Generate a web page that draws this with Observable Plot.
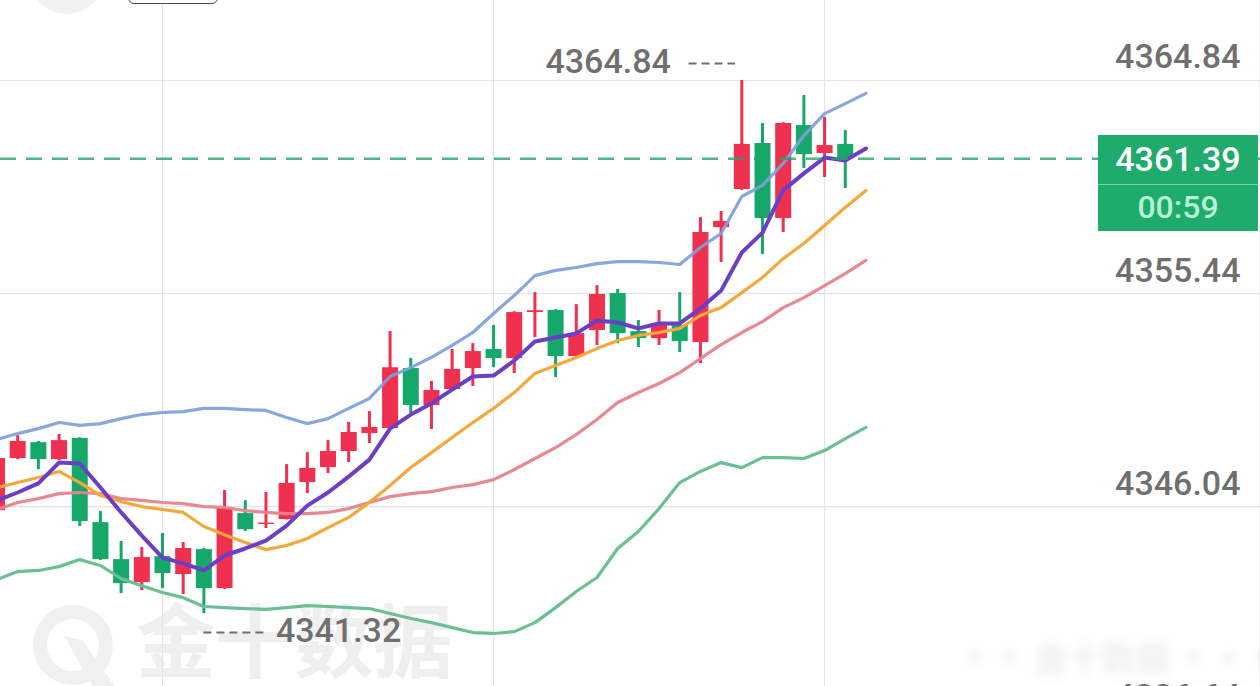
<!DOCTYPE html>
<html>
<head>
<meta charset="utf-8">
<script src="https://cdn.jsdelivr.net/npm/d3@7"></script>
<script src="https://cdn.jsdelivr.net/npm/@observablehq/plot@0.6"></script>
<style>
  html, body { margin: 0; padding: 0; background: #ffffff; overflow: hidden; }
  #wrap { position: relative; width: 1260px; height: 686px; overflow: hidden; background: #fff; }
  #wrap > svg.plot { position: absolute; left: 0; top: 0; z-index: 1; }
  .wm { position: absolute; z-index: 0; }
  #wmText { left: 136px; top: 596px; font-family: "Noto Sans CJK SC", sans-serif; font-weight: 700;
            font-size: 80px; color: #efefef; letter-spacing: -1px; line-height: 1; white-space: nowrap; }
  #wmRight { left: 958px; top: 632px; font-family: "Noto Sans CJK SC", sans-serif; font-weight: 700;
             font-size: 34px; color: #efefef; filter: blur(4px); white-space: nowrap; }
  #topCircle { position: absolute; z-index: 2; left: 30px; top: -60px; width: 74px; height: 74px;
               border-radius: 50%; background: #f2f2f2; }
  #topBtn { position: absolute; z-index: 2; left: 128px; top: -20px; width: 88px; height: 22px;
            border: 1.5px solid #4a4a4a; border-radius: 6px; background: #fff; }
  #priceBox { position: absolute; z-index: 3; left: 1098px; width: 160px; background: #1eab6b;
              font-family: Roboto, sans-serif; text-align: center; }
  #priceBox .p { height: 49px; line-height: 49px; font-size: 34px; font-weight: 500; color: #ffffff;
                 border-bottom: 1px solid #6fd3a3; }
  #priceBox .t { height: 46px; line-height: 44px; font-size: 32px; font-weight: 500; color: #b6f1d2; }
</style>
</head>
<body>
<div id="wrap"></div>
<script>
// ---- data (candle index -1 is the partly visible first candle) ----
const firstIndex = -1;
const opens  = [4345.86,4348.16,4348.86,4348.11,4349.04,4345.33,4343.70,4342.69,4343.83,4343.04,4344.14,4342.42,4345.73,4345.25,4345.47,4347.10,4347.76,4348.47,4349.26,4349.48,4352.13,4350.50,4351.20,4352.13,4352.97,4352.57,4354.60,4354.69,4352.66,4353.81,4355.44,4353.76,4353.45,4354.03,4353.28,4358.35,4360.03,4362.06,4358.75,4362.85,4361.62,4362.02];
const highs  = [4348.42,4349.17,4348.91,4349.22,4349.08,4345.82,4344.50,4344.23,4344.85,4344.45,4344.20,4346.75,4346.30,4346.66,4347.89,4348.42,4348.95,4349.75,4350.23,4353.76,4352.57,4351.56,4352.97,4353.23,4354.03,4354.64,4355.48,4354.73,4354.95,4355.79,4355.62,4354.25,4354.69,4355.48,4358.79,4359.06,4364.84,4362.94,4362.98,4364.18,4363.21,4362.63];
const lows   = [4345.69,4348.11,4347.67,4348.06,4345.16,4343.66,4342.20,4342.33,4342.42,4342.16,4341.32,4342.38,4344.94,4345.07,4345.45,4346.61,4347.50,4347.98,4348.82,4349.45,4350.15,4349.44,4351.12,4351.34,4352.17,4351.91,4353.50,4351.73,4352.62,4353.15,4353.23,4353.06,4353.15,4352.84,4352.35,4356.81,4359.99,4357.16,4358.13,4360.96,4360.56,4360.07];
const closes = [4348.16,4348.91,4348.11,4348.95,4345.38,4343.70,4342.64,4343.79,4343.08,4344.19,4342.42,4345.95,4345.02,4345.31,4347.06,4347.72,4348.47,4349.31,4349.53,4352.17,4350.50,4351.16,4352.09,4352.88,4352.57,4354.60,4354.68,4352.66,4353.67,4355.40,4353.67,4353.45,4354.12,4353.32,4358.13,4358.62,4362.02,4358.75,4362.94,4361.57,4361.97,4361.39];

// indicator lines (index -1 .. 41)
const ma5     = [4346.31,4346.66,4347.06,4347.98,4347.94,4346.88,4345.78,4344.76,4343.79,4343.53,4343.22,4343.88,4344.19,4344.54,4345.20,4346.08,4346.66,4347.36,4348.11,4349.48,4350.10,4350.59,4351.20,4351.78,4351.82,4352.48,4353.32,4353.50,4353.68,4354.25,4354.16,4353.90,4354.12,4354.12,4354.78,4355.57,4357.25,4358.13,4359.99,4360.74,4361.44,4361.31,4361.84];
const ma10    = [4346.88,4347.10,4347.32,4347.59,4347.10,4346.53,4346.26,4346.04,4345.91,4345.78,4345.16,4344.80,4344.45,4344.14,4344.32,4344.63,4345.11,4345.56,4346.22,4346.97,4347.76,4348.42,4349.09,4349.75,4350.37,4351.07,4351.91,4352.26,4352.62,4353.01,4353.37,4353.59,4353.72,4353.90,4354.47,4354.82,4355.48,4356.15,4356.98,4357.65,4358.44,4359.24,4359.99];
const bollMid = [4345.91,4346.22,4346.39,4346.61,4346.66,4346.61,4346.39,4346.31,4346.22,4346.17,4346.04,4346.00,4345.86,4345.78,4345.73,4345.73,4345.78,4345.95,4346.22,4346.48,4346.61,4346.70,4346.88,4347.01,4347.23,4347.67,4348.16,4348.64,4349.22,4349.88,4350.63,4351.07,4351.47,4351.95,4352.57,4353.19,4353.72,4354.20,4354.82,4355.26,4355.79,4356.32,4356.90];
const bollUp  = [4349.00,4349.26,4349.48,4349.75,4349.62,4349.70,4349.92,4350.10,4350.19,4350.23,4350.37,4350.37,4350.32,4350.28,4349.97,4349.70,4349.92,4350.37,4350.81,4351.78,4352.17,4352.62,4353.15,4353.72,4354.56,4355.35,4356.23,4356.46,4356.59,4356.76,4356.85,4356.85,4356.81,4356.72,4357.47,4358.09,4359.72,4360.21,4361.18,4362.41,4363.38,4363.82,4364.27];
const bollLow = [4342.82,4343.17,4343.22,4343.39,4343.70,4343.44,4342.86,4342.55,4342.25,4342.02,4341.63,4341.58,4341.54,4341.50,4341.58,4341.67,4341.63,4341.58,4341.54,4341.32,4341.10,4340.92,4340.70,4340.48,4340.44,4340.52,4340.92,4341.58,4342.29,4342.91,4344.19,4344.94,4345.95,4347.10,4347.59,4347.98,4347.76,4348.20,4348.20,4348.16,4348.51,4349.04,4349.53];

const priceTicks = [4364.84, 4355.44, 4346.04, 4336.64];
const gridCandles = [7, 23, 39];
const lastPrice = 4361.39;
const countdown = "00:59";
const xDomain = [-0.83, 60.07];
const yDomain = [4338.10, 4368.37];

// ---- build tables ----
const UP = "#f0304f", DOWN = "#16a86a";
const candles = opens.map((o, k) => ({
  i: k + firstIndex, open: o, high: highs[k], low: lows[k], close: closes[k],
  color: closes[k] >= o ? UP : DOWN
}));
const rows = arr => arr.map((v, k) => ({ i: k + firstIndex, v }));
const hi = d3.greatest(candles, d => d.high);
const lo = d3.least(candles, d => d.low);
const font = "Roboto, 'Noto Sans', sans-serif";
const labelGray = "#6f6f6f";
const labelSize = 34;

const chart = Plot.plot({
  width: 1260, height: 686, margin: 0,
  style: { background: "transparent", overflow: "visible" },
  x: { type: "linear", domain: xDomain, axis: null },
  y: { domain: yDomain, axis: null },
  color: { type: "identity" },
  marks: [
    Plot.ruleY(priceTicks, { stroke: "#e4e4e4", strokeWidth: 1.2 }),
    Plot.ruleX(gridCandles, { stroke: "#e4e4e4", strokeWidth: 1.2 }),
    Plot.ruleX([xDomain[1]], { stroke: "#e4e4e4", strokeWidth: 2 }),
    // candles
    Plot.ruleX(candles, { x: "i", y1: "low", y2: "high", stroke: "color", strokeWidth: 3 }),
    Plot.ruleX(candles, { x: "i", y1: "open", y2: "close", stroke: "color", strokeWidth: 16 }),
    // indicators
    Plot.line(rows(bollMid), { x: "i", y: "v", stroke: "#e6838c", strokeWidth: 3.2, strokeOpacity: 0.95 }),
    Plot.line(rows(ma10), { x: "i", y: "v", stroke: "#f4a83a", strokeWidth: 3.2 }),
    Plot.line(rows(bollLow), { x: "i", y: "v", stroke: "#6cbf94", strokeWidth: 3.2 }),
    Plot.line(rows(bollUp), { x: "i", y: "v", stroke: "#7fa0da", strokeWidth: 3.2, strokeOpacity: 0.92 }),
    Plot.line(rows(ma5), { x: "i", y: "v", stroke: "#6a3fc6", strokeWidth: 4 }),
    // last price dashed line
    Plot.ruleY([lastPrice], { stroke: "#22a566", strokeWidth: 2.5, strokeDasharray: "16,10", strokeOpacity: 0.8 }),
    // right price labels
    Plot.text(priceTicks, {
      y: d => d, text: d => d.toFixed(2), frameAnchor: "right", dx: -20, dy: -12,
      textAnchor: "end", lineAnchor: "bottom", fontSize: labelSize, fontWeight: 500,
      fontFamily: font, fill: labelGray
    }),
    // high annotation
    Plot.text([hi], {
      x: "i", y: "high", text: d => d.high.toFixed(2), textAnchor: "end", lineAnchor: "middle",
      dx: -71, dy: -18, fontSize: labelSize, fontWeight: 500, fontFamily: font, fill: labelGray
    }),
    Plot.ruleY([hi], {
      y: "high", x1: d => d.i - 2.55, x2: d => d.i - 0.3, dy: -17,
      stroke: labelGray, strokeWidth: 2, strokeDasharray: "8,5"
    }),
    // low annotation
    Plot.text([lo], {
      x: "i", y: "low", text: d => d.low.toFixed(2), textAnchor: "start", lineAnchor: "middle",
      dx: 72, dy: 18, fontSize: labelSize, fontWeight: 500, fontFamily: font, fill: labelGray
    }),
    Plot.ruleY([lo], {
      y: "low", x1: "i", x2: d => d.i + 3, dy: 19,
      stroke: labelGray, strokeWidth: 2, strokeDasharray: "8,5"
    })
  ]
});

const wrap = document.getElementById("wrap");

// watermark (behind the chart)
const wmText = document.createElement("div");
wmText.className = "wm"; wmText.id = "wmText"; wmText.textContent = "金十数据";
wrap.appendChild(wmText);
const wmRight = document.createElement("div");
wmRight.className = "wm"; wmRight.id = "wmRight"; wmRight.textContent = "▪▪ 金十数据 ▪▪▪▪";
wrap.appendChild(wmRight);
const logo = document.createElementNS("http://www.w3.org/2000/svg", "svg");
logo.setAttribute("class", "wm");
logo.setAttribute("width", "110"); logo.setAttribute("height", "100");
logo.style.left = "20px"; logo.style.top = "596px";
logo.innerHTML = '<circle cx="53" cy="49" r="33" fill="none" stroke="#f0f0f0" stroke-width="14"/>' +
                 '<path d="M44 40 L62 44 L96 92 L74 92 Z" fill="#f0f0f0"/>';
wrap.appendChild(logo);

chart.classList.add("plot");
wrap.appendChild(chart);

// top-left UI fragments
const tc = document.createElement("div"); tc.id = "topCircle"; wrap.appendChild(tc);
const tb = document.createElement("div"); tb.id = "topBtn"; wrap.appendChild(tb);

// last price box positioned with the chart's own y scale
const yPx = chart.scale("y").apply(lastPrice);
const box = document.createElement("div");
box.id = "priceBox";
box.style.top = (yPx - 23) + "px";
box.innerHTML = `<div class="p">${lastPrice.toFixed(2)}</div><div class="t">${countdown}</div>`;
wrap.appendChild(box);
</script>
</body>
</html>
